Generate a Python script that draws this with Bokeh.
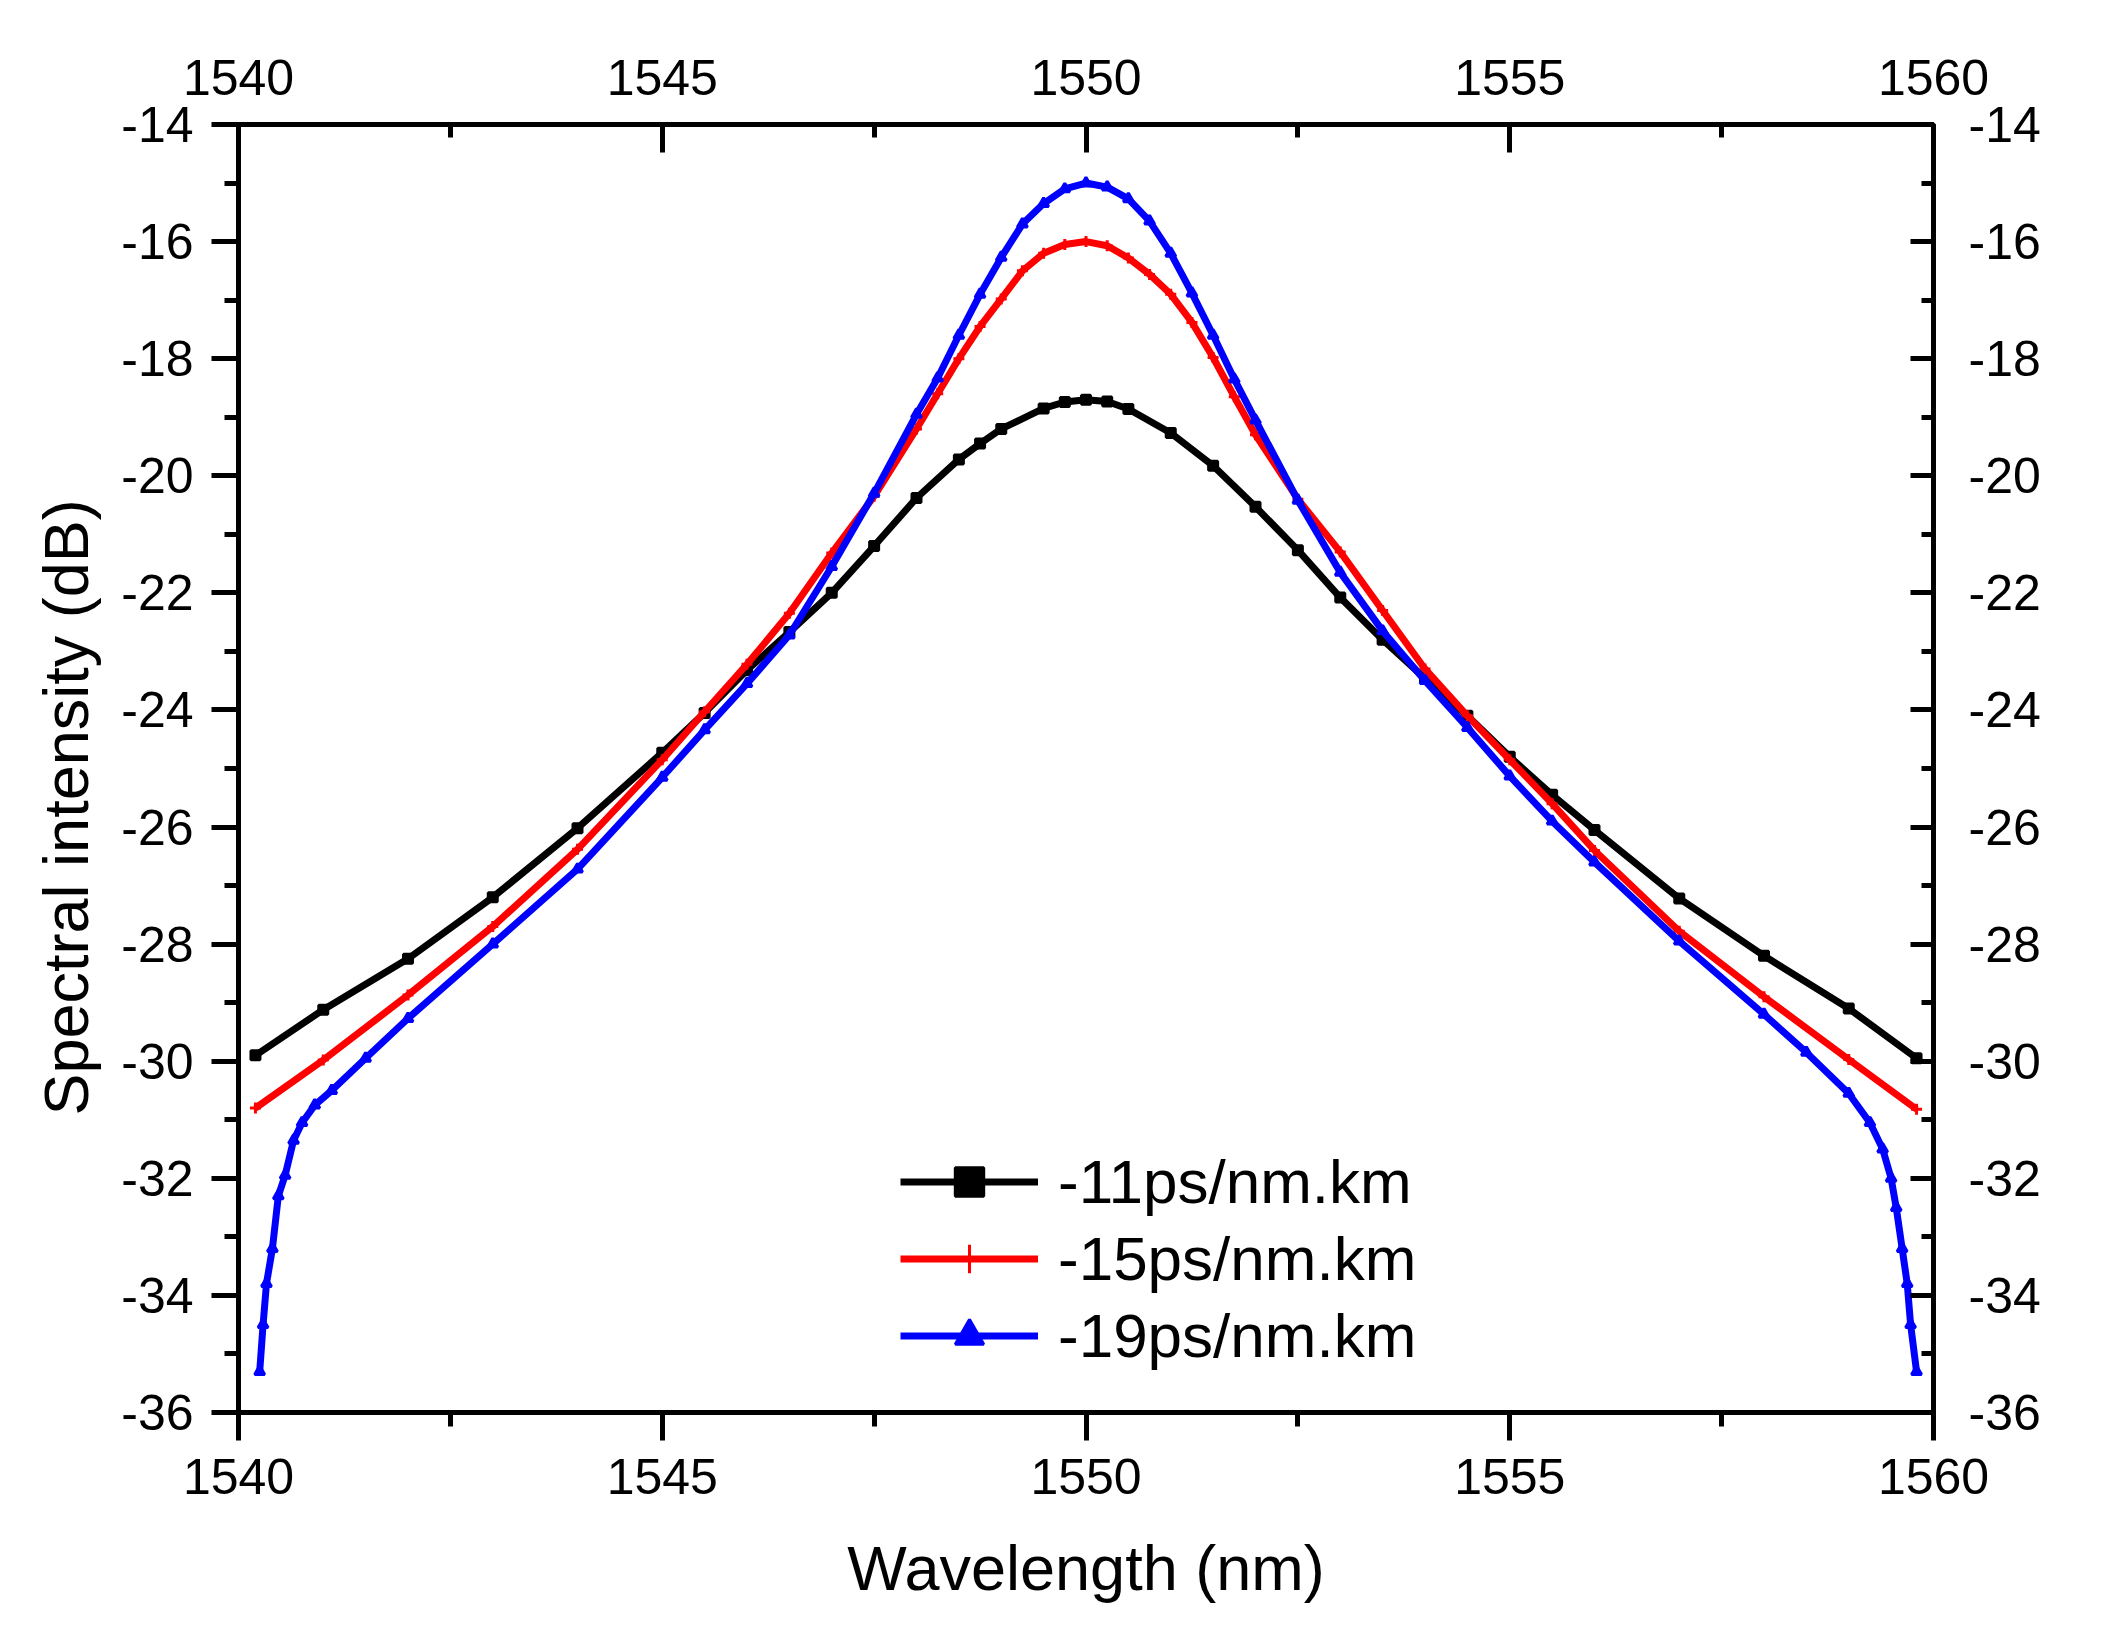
from bokeh.plotting import figure
from bokeh.models import Range1d, LinearAxis, FixedTicker, Title
from bokeh.embed import file_html
from bokeh.resources import INLINE

# ---------------- data ----------------
wl_11 = [1540.2, 1541, 1542, 1543, 1544, 1545, 1545.5, 1546, 1546.5, 1547, 1547.5,
         1548, 1548.5, 1548.75, 1549, 1549.5, 1549.75, 1550, 1550.25, 1550.5, 1551,
         1551.5, 1552, 1552.5, 1553, 1553.5, 1554, 1554.5, 1555, 1555.5, 1556,
         1557, 1558, 1559, 1559.8]
db_11 = [-29.9, -29.12, -28.25, -27.2, -26.02, -24.73, -24.05, -23.32, -22.67, -22.0, -21.2,
         -20.38, -19.72, -19.45, -19.2, -18.85, -18.74, -18.7, -18.73, -18.86, -19.27,
         -19.83, -20.53, -21.27, -22.08, -22.8, -23.46, -24.1, -24.8, -25.45, -26.05,
         -27.22, -28.2, -29.1, -29.95]

wl_15 = [1540.2, 1541, 1542, 1543, 1544, 1545, 1545.5, 1546, 1546.5, 1547, 1547.5,
         1548, 1548.25, 1548.5, 1548.75, 1549, 1549.25, 1549.5, 1549.75, 1550, 1550.25,
         1550.5, 1550.75, 1551, 1551.25, 1551.5, 1551.75, 1552, 1552.5, 1553, 1553.5,
         1554, 1554.5, 1555, 1555.5, 1556, 1557, 1558, 1559, 1559.8]
db_15 = [-30.8, -29.98, -28.87, -27.7, -26.38, -24.85, -24.03, -23.22, -22.35, -21.32, -20.35,
         -19.2, -18.6, -18.0, -17.45, -16.98, -16.5, -16.2, -16.05, -16.0, -16.07,
         -16.28, -16.56, -16.9, -17.38, -17.98, -18.65, -19.3, -20.4, -21.3, -22.3,
         -23.3, -24.1, -24.85, -25.6, -26.4, -27.78, -28.9, -29.97, -30.82]

wl_19 = [1540.25, 1540.29, 1540.33, 1540.4, 1540.47, 1540.55, 1540.65, 1540.75, 1540.9,
         1541.1, 1541.5, 1542, 1543, 1544, 1545, 1545.5, 1546, 1546.5, 1547, 1547.5,
         1548, 1548.25, 1548.5, 1548.75, 1549, 1549.25, 1549.5, 1549.75, 1550, 1550.25,
         1550.5, 1550.75, 1551, 1551.25, 1551.5, 1551.75, 1552, 1552.5, 1553, 1553.5,
         1554, 1554.5, 1555, 1555.5, 1556, 1557, 1558, 1558.5, 1559, 1559.25,
         1559.4, 1559.5, 1559.56, 1559.63, 1559.69, 1559.73, 1559.8]
db_19 = [-35.3, -34.5, -33.8, -33.2, -32.3, -31.95, -31.35, -31.05, -30.75,
         -30.5, -29.95, -29.27, -28.0, -26.72, -25.15, -24.34, -23.55, -22.72, -21.55, -20.3,
         -18.95, -18.33, -17.6, -16.9, -16.27, -15.7, -15.35, -15.1, -15.0, -15.07,
         -15.27, -15.65, -16.2, -16.88, -17.6, -18.35, -19.05, -20.42, -21.65, -22.65,
         -23.5, -24.3, -25.13, -25.9, -26.6, -27.95, -29.2, -29.85, -30.55, -31.05,
         -31.5, -32.0, -32.5, -33.2, -33.8, -34.5, -35.3]

labels = ["-11ps/nm.km", "-15ps/nm.km", "-19ps/nm.km"]
colors = ["#000000", "#ff0000", "#0000ff"]
markers = ["square", "cross", "triangle"]
marker_sizes = [9, 11, 10]

x_ticks = [1540, 1545, 1550, 1555, 1560]
x_minor = [1542.5, 1547.5, 1552.5, 1557.5]
y_ticks = [-36, -34, -32, -30, -28, -26, -24, -22, -20, -18, -16, -14]
y_minor = [-35, -33, -31, -29, -27, -25, -23, -21, -19, -17, -15]
y_tick_labels = ["-36", "-34", "-32", "-30", "-28", "-26", "-24", "-22", "-20", "-18", "-16", "-14"]
x_title = "Wavelength (nm)"
y_title = "Spectral intensity (dB)"

FONT = "Liberation Sans"

p = figure(frame_width=1695, frame_height=1288,
           x_range=Range1d(1540, 1560), y_range=Range1d(-36, -14),
           output_backend="svg", toolbar_location=None,
           min_border_left=238, min_border_right=157,
           min_border_top=124, min_border_bottom=198)

p.xgrid.visible = False
p.ygrid.visible = False
p.background_fill_color = "white"
p.border_fill_color = "white"
p.outline_line_color = "black"
p.outline_line_width = 5

series = [(wl_11, db_11), (wl_15, db_15), (wl_19, db_19)]
for (xs, ys), lab, col, mk, ms in zip(series, labels, colors, markers, marker_sizes):
    p.line(xs, ys, line_color=col, line_width=7, legend_label=lab)
    p.scatter(xs, ys, marker=mk, size=ms, line_color=col, fill_color=col,
              line_width=3, legend_label=lab)

xt = FixedTicker(ticks=x_ticks, minor_ticks=x_minor)
yt = FixedTicker(ticks=y_ticks, minor_ticks=y_minor)
y_over = {t: s for t, s in zip(y_ticks, y_tick_labels)}

def style(ax, ticker, tin, tout, mtin, mtout, standoff):
    ax.ticker = ticker
    ax.axis_line_width = 5
    ax.axis_line_color = "black"
    ax.major_tick_line_width = 5
    ax.minor_tick_line_width = 5
    ax.major_tick_in = tin
    ax.major_tick_out = tout
    ax.minor_tick_in = mtin
    ax.minor_tick_out = mtout
    ax.major_label_text_font = FONT
    ax.major_label_text_font_size = "50px"
    ax.major_label_text_color = "black"
    ax.major_label_standoff = standoff

style(p.xaxis[0], xt, 0, 28, 0, 14, 18)
style(p.yaxis[0], yt, 0, 27, 0, 14, 18)
p.yaxis[0].major_label_overrides = y_over

top = LinearAxis()
style(top, xt, 28, 0, 13, 0, 30)
p.add_layout(top, "above")

right = LinearAxis()
style(right, yt, 23, 0, 12, 0, 35)
right.major_label_overrides = y_over
p.add_layout(right, "right")

# axis titles as side titles (so they can be placed like the reference)
xtitle = Title(text=x_title, align="center", standoff=68,
               text_font=FONT, text_font_size="63px", text_font_style="normal",
               text_color="black")
p.add_layout(xtitle, "below")
ytitle = Title(text=y_title, align="left", offset=297, standoff=35,
               text_font=FONT, text_font_size="63px", text_font_style="normal",
               text_color="black")
p.add_layout(ytitle, "left")

lg = p.legend[0]
lg.location = (662, 41)
lg.border_line_alpha = 0
lg.background_fill_alpha = 0
lg.padding = 0
lg.margin = 0
lg.spacing = 6
lg.glyph_width = 138
lg.glyph_height = 71
lg.label_standoff = 20
lg.label_text_font = FONT
lg.label_text_font_size = "62px"
lg.label_text_color = "black"

open("out.html", "w").write(file_html(p, INLINE))
